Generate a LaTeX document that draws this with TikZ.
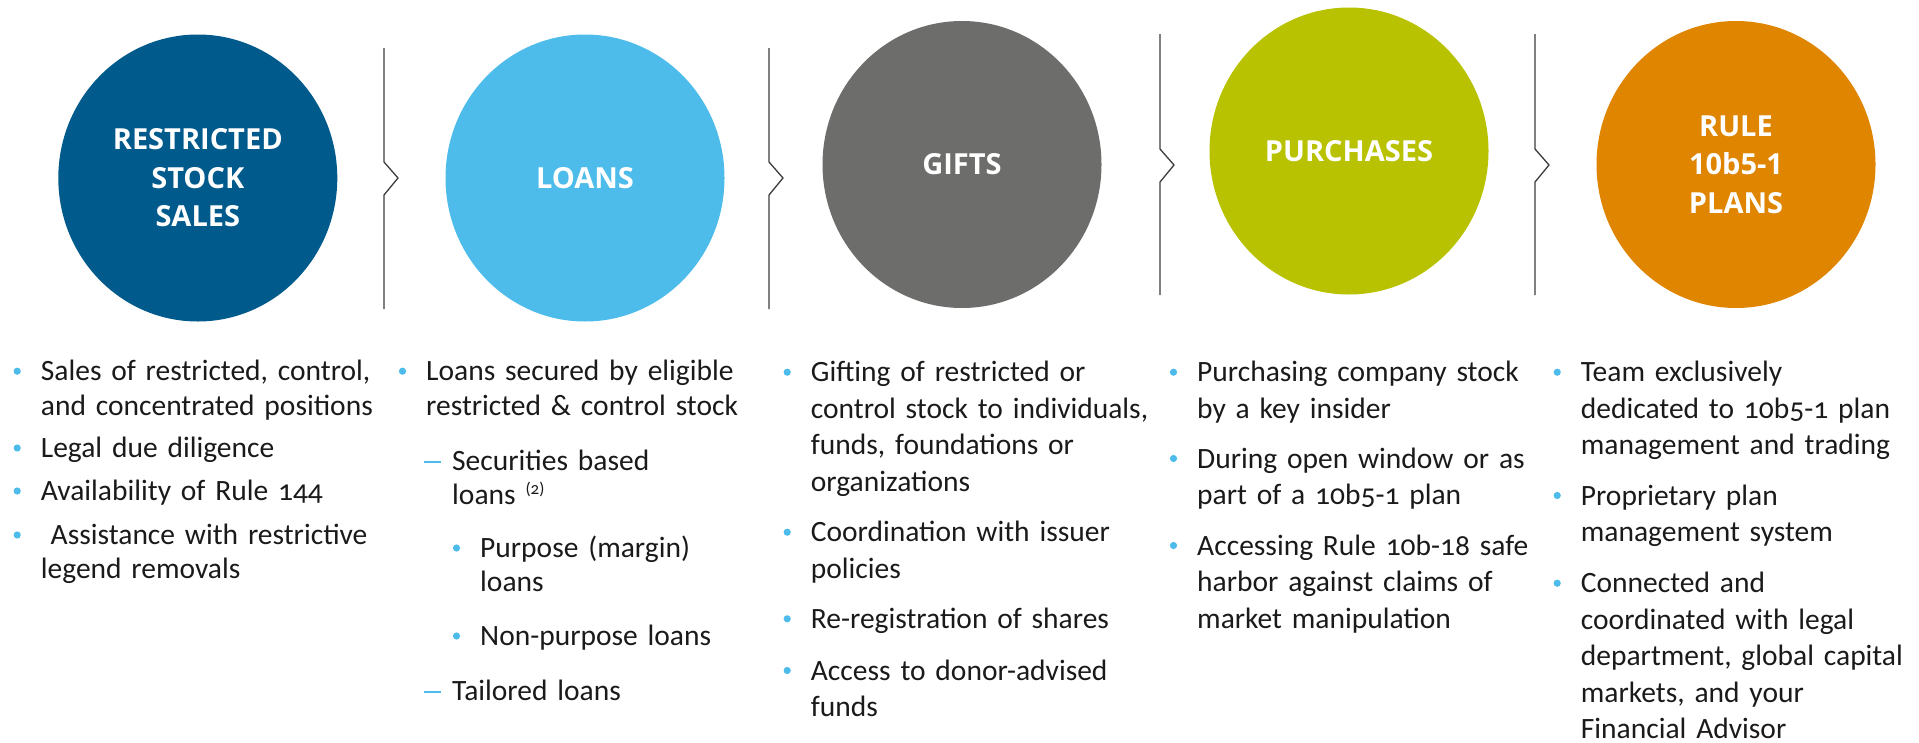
\documentclass[tikz,border=0pt]{standalone}
\usepackage{fontspec}
\setmainfont{Carlito}[Numbers=OldStyle]
\newfontfamily\headfont{Open Sans}
\usepackage{tikz}
\usetikzlibrary{shapes.geometric}
\definecolor{navy}{HTML}{005A8C}
\definecolor{sky}{HTML}{4EBCEA}
\definecolor{slate}{HTML}{6D6E6C}
\definecolor{olive}{HTML}{B8C200}
\definecolor{amber}{HTML}{DF8500}
\definecolor{ink}{HTML}{1A1A1A}
\definecolor{rule}{HTML}{3C3C3C}
\newcommand{\pitem}[4]{\fill[sky] (#2-23.5,#3-9.5) circle (3.6);
\node[txt] (#1) at (#2,#3) {#4};}
\newcommand{\ditem}[4]{\draw[sky,line width=2] (#2-28,#3-8.5) -- (#2-11,#3-8.5);
\node[txt] (#1) at (#2,#3) {#4};}

\begin{document}
\begin{tikzpicture}[x=1pt,y=-1pt]
\tikzstyle{disc}=[shape=ellipse,minimum width=279,minimum height=287,inner sep=0,text=white,align=center,font={\headfont\bfseries\fontsize{29}{38.5}\selectfont}];
\tikzstyle{txt}=[anchor=base west,inner sep=0,text width=370,align=left,text=ink,font={\fontsize{29.5}{34.3}\selectfont}];
\tikzstyle{sepline}=[draw=rule,line width=1.3,line join=miter];
\useasboundingbox (0,0) rectangle (1919,742);

\node[disc,fill=navy] (rss) at (197.8,178) {RESTRICTED\\STOCK\\SALES};
\node[disc,fill=sky] (loans) at (585,178) {LOANS};
\node[disc,fill=slate] (gifts) at (962,164.5) {GIFTS};
\node[disc,fill=olive] (purch) at (1349,151) {PURCHASES};
\node[disc,fill=amber] (rule) at (1736,164.5) {RULE\\10b5-1\\PLANS};

\foreach \x/\t/\m in {384/48/178,769/48/178,1160/34/165,1535/34/165}
  \draw[sepline] (\x,\t) -- (\x,\m-16) -- (\x+14,\m) -- (\x,\m+17) -- (\x,\t+261);

\pitem{rss1}{40.7}{380.7}{Sales of restricted, control,\\and concentrated positions}
\pitem{rss2}{40.7}{457.5}{Legal due diligence}
\pitem{rss3}{40.7}{500.5}{Availability of Rule 144}
\pitem{rss4}{40.7}{544.5}{~Assistance with restrictive\\legend removals}

\pitem{loans1}{426}{380.7}{Loans secured by eligible\\restricted \& control stock}
\ditem{loans2}{452}{470}{Securities based\\loans~\raisebox{10pt}{\fontsize{17}{17}\selectfont(2)}}
\pitem{loans3}{480}{557.5}{Purpose (margin)\\loans}
\pitem{loans4}{480}{645.5}{Non-purpose loans}
\ditem{loans5}{452}{700.5}{Tailored loans}

\tikzstyle{txt}+=[font={\fontsize{29.5}{36.5}\selectfont}];
\pitem{gifts1}{810.7}{381.7}{Gifting of restricted or\\control stock to individuals,\\funds, foundations or\\organizations}
\pitem{gifts2}{810.7}{541.7}{Coordination with issuer\\policies}
\pitem{gifts3}{810.7}{628.3}{Re-registration of shares}
\pitem{gifts4}{810.7}{680}{Access to donor-advised\\funds}

\pitem{purch1}{1197}{381.7}{Purchasing company stock\\by a key insider}
\pitem{purch2}{1197}{468}{During open window or as\\part of a 10b5-1 plan}
\pitem{purch3}{1197}{555}{Accessing Rule 10b-18 safe\\harbor against claims of\\market manipulation}

\pitem{rule1}{1580.7}{381.7}{Team exclusively\\dedicated to 10b5-1 plan\\management and trading}
\pitem{rule2}{1580.7}{505}{Proprietary plan\\management system}
\pitem{rule3}{1580.7}{592.7}{Connected and\\coordinated with legal\\department, global capital\\markets, and your\\Financial Advisor}
\end{tikzpicture}
\end{document}
